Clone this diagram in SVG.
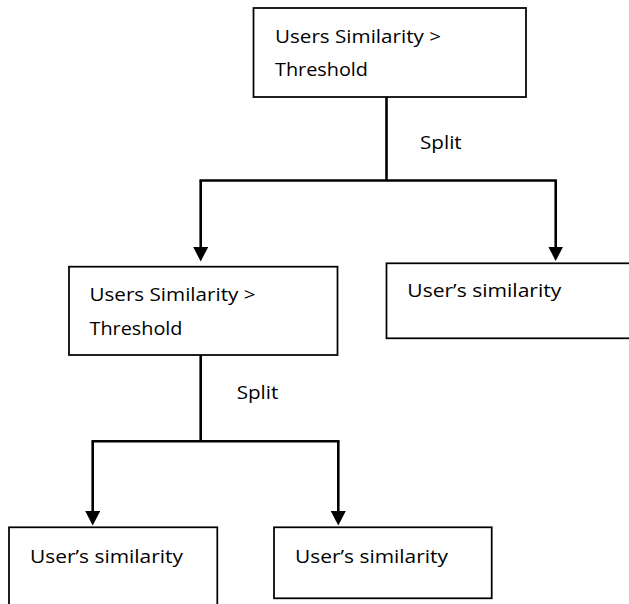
<svg xmlns="http://www.w3.org/2000/svg" width="629" height="604" viewBox="0 0 629 604">
  <style>
    .box { fill: #ffffff; stroke: #000000; stroke-width: 1.75; }
    .wire { fill: none; stroke: #000000; stroke-width: 2.6; }
    .lbl { font-family: "Open Sans", "Liberation Sans", Arial, sans-serif; font-size: 19px; fill: #000000; }
  </style>
  <defs>
    <marker id="arrow" viewBox="0 0 15 15" refX="0.5" refY="7.5" markerWidth="15" markerHeight="15" markerUnits="userSpaceOnUse" orient="auto">
      <path d="M0,0 L14.5,7.5 L0,15 Z" fill="#000000"/>
    </marker>
  </defs>
  <rect width="629" height="604" fill="#ffffff"/>

  <!-- connectors -->
  <g id="connectors">
    <path class="wire" d="M386.5,97 V180.5"/>
    <path class="wire" d="M199.5,180.5 H556.9"/>
    <path class="wire" d="M200.7,180.5 V247.5" marker-end="url(#arrow)"/>
    <path class="wire" d="M555.7,180.5 V247" marker-end="url(#arrow)"/>
    <path class="wire" d="M200.7,355 V441.3"/>
    <path class="wire" d="M91.5,441.3 H339.5"/>
    <path class="wire" d="M92.7,441.3 V511.5" marker-end="url(#arrow)"/>
    <path class="wire" d="M338.3,441.3 V511.5" marker-end="url(#arrow)"/>
    <text class="lbl" x="420" y="149" textLength="41.7" lengthAdjust="spacingAndGlyphs">Split</text>
    <text class="lbl" x="236.7" y="398.5" textLength="41.7" lengthAdjust="spacingAndGlyphs">Split</text>
  </g>

  <!-- root test -->
  <g id="root">
    <rect class="box" x="253.5" y="8" width="272.5" height="89"/>
    <text class="lbl" x="275" y="42.5" textLength="166" lengthAdjust="spacingAndGlyphs">Users Similarity &gt;</text>
    <text class="lbl" x="275" y="76" textLength="93" lengthAdjust="spacingAndGlyphs">Threshold</text>
  </g>

  <!-- second-level test -->
  <g id="test2">
    <rect class="box" x="69" y="266.7" width="268.5" height="88.3"/>
    <text class="lbl" x="89.5" y="301" textLength="166" lengthAdjust="spacingAndGlyphs">Users Similarity &gt;</text>
    <text class="lbl" x="89.5" y="334.5" textLength="93" lengthAdjust="spacingAndGlyphs">Threshold</text>
  </g>

  <!-- leaf on the right of the root -->
  <g id="leafA">
    <rect class="box" x="386.5" y="263.3" width="260" height="75"/>
    <text class="lbl" x="407.3" y="296.7" textLength="154" lengthAdjust="spacingAndGlyphs">User&#8217;s similarity</text>
  </g>

  <!-- leaves under the second test -->
  <g id="leafB">
    <rect class="box" x="9" y="527.3" width="208.3" height="90"/>
    <text class="lbl" x="30" y="562.7" textLength="153" lengthAdjust="spacingAndGlyphs">User&#8217;s similarity</text>
  </g>

  <g id="leafC">
    <rect class="box" x="274" y="527.3" width="217.7" height="71"/>
    <text class="lbl" x="295" y="562.7" textLength="153" lengthAdjust="spacingAndGlyphs">User&#8217;s similarity</text>
  </g>
</svg>
